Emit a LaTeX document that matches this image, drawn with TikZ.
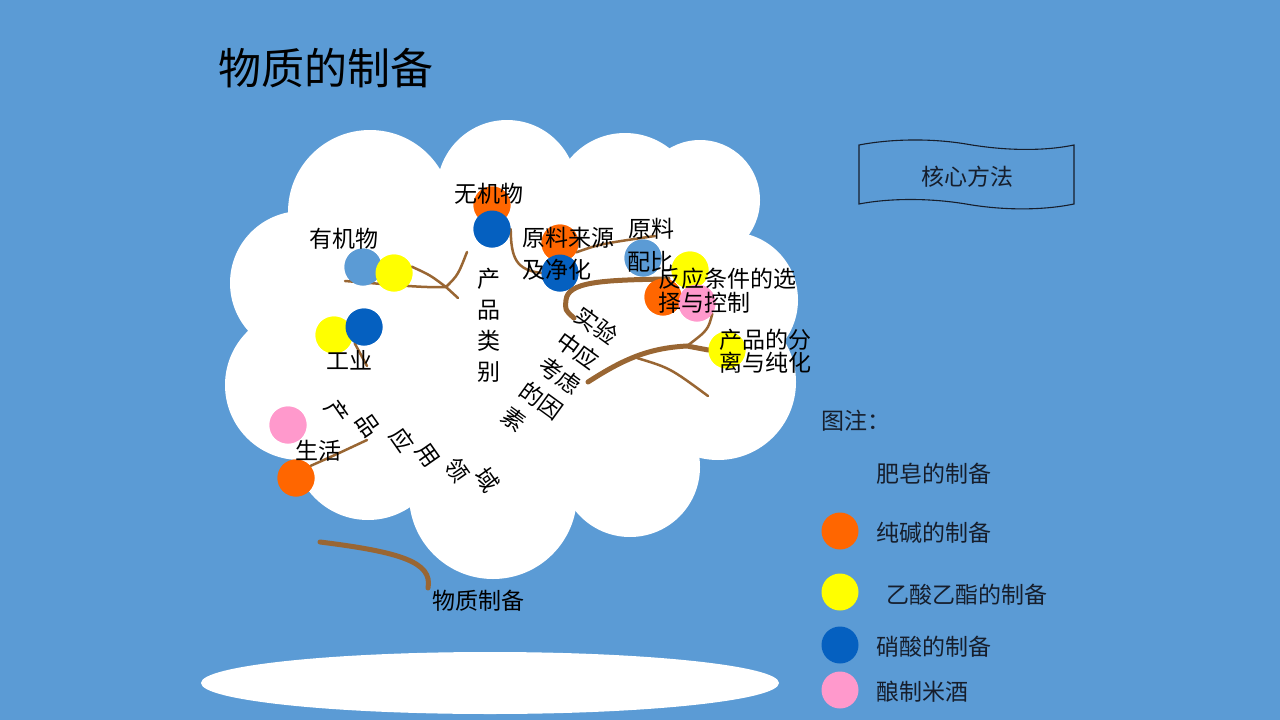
\documentclass[tikz,border=0pt]{standalone}
\usepackage{fontspec}
\setmainfont{Noto Sans CJK SC}
\definecolor{bgc}{RGB}{91,155,213}
\definecolor{orc}{RGB}{255,102,0}
\definecolor{yec}{RGB}{255,255,0}
\definecolor{dbc}{RGB}{5,96,192}
\definecolor{lbc}{RGB}{91,155,213}
\definecolor{pkc}{RGB}{255,153,204}
\definecolor{brc}{RGB}{153,102,51}
\definecolor{legtxt}{RGB}{22,30,44}
\begin{document}
\begin{tikzpicture}[x=1pt,y=-1pt,
  dot/.style={circle, minimum size=37pt, inner sep=0pt},
  br/.style={draw=brc, line width=2.5pt, line cap=round},
  brthick/.style={draw=brc, line width=5pt, line cap=round},
  lbl/.style={inner sep=0pt, text=black, font=\fontsize{23}{31}\selectfont},
  leg/.style={inner sep=0pt, anchor=west, text=legtxt, font=\fontsize{23}{28}\selectfont},
  rch/.style={lbl, rotate=-55}]
\useasboundingbox (0,0) rectangle (1280,720);
\fill[bgc] (0,0) rectangle (1280,720);
% cloud
\fill[white] (510,340) ellipse [x radius=220pt, y radius=160pt];
\foreach \cx/\cy/\r in {370/212/82, 507/190/70, 625/205/72, 700/200/60, 730/300/68, 718/382/78, 630/467/70, 493/495/84, 368/445/75, 300/385/75, 302/283/72}
  \fill[white] (\cx,\cy) circle [radius=\r pt];
% bottom ellipse
\fill[white] (490,683) ellipse [x radius=289pt, y radius=31pt];
% banner
\draw[draw=legtxt, line width=1.1pt] (859,145) .. controls (890,139) and (930,138) .. (966,144) .. controls (1000,150) and (1040,152) .. (1074,145) -- (1074,204) .. controls (1040,211) and (1000,210) .. (966,204) .. controls (930,198) and (890,198) .. (859,204) -- cycle;
\node[inner sep=0pt, text=legtxt, font=\fontsize{23}{28}\selectfont] (hxff) at (967,177) {核心方法};
% title
\node[inner sep=0pt, anchor=west, font=\fontsize{43}{50}\selectfont] (title) at (218,68) {物质的制备};
% circle positions (named)
\path (492,205) node[dot, fill=orc] (wjO) {};
\path (492,229) node[dot, fill=dbc] (wjB) {};
\path (363,267) node[dot, fill=lbc] (yjL) {};
\path (394,273) node[dot, fill=yec] (yjY) {};
\path (334,335) node[dot, fill=yec] (gyY) {};
\path (364,327) node[dot, fill=dbc] (gyB) {};
\path (288,425) node[dot, fill=pkc] (shP) {};
\path (296,478) node[dot, fill=orc] (shO) {};
\path (560,243) node[dot, fill=orc] (ylO) {};
\path (560,273) node[dot, fill=dbc] (ylB) {};
\path (643,258) node[dot, fill=lbc] (plL) {};
\path (690,270) node[dot, fill=yec] (fyY) {};
\path (663,297) node[dot, fill=orc] (fyO) {};
\path (697,303) node[dot, fill=pkc] (fyP) {};
\path (727,350) node[dot, fill=yec] (fxY) {};
% coordinates for free ends
\coordinate (a1) at (345,281);
\coordinate (aJ) at (446,287);
\coordinate (aE) at (458,298);
\coordinate (aT) at (467,252);
\coordinate (gyE) at (367,366);
\coordinate (shE) at (367,440);
\coordinate (plE) at (655,236);
\coordinate (s1a) at (668,279);
\coordinate (s1) at (574,318);
\coordinate (stJ) at (687,346);
\coordinate (s2) at (588,382);
\coordinate (b1) at (637,358);
\coordinate (b2) at (708,396);
\coordinate (m1) at (320,542);
\coordinate (m2) at (428,588);
% branches (drawn beneath circles)
\begin{scope}[on background layer/.style={}]
\end{scope}
\draw[br] (a1) .. controls (395,285) and (425,288) .. (aJ) -- (aE);
\draw[br] (yjY.20) .. controls (430,275) .. (aJ) .. controls (458,275) .. (aT);
\draw[br] (gyB.-120) -- (gyE);
\draw[br] (shO.40) .. controls (335,455) .. (shE);
\draw[br] (wjB.east) .. controls (511,258) and (516,270) .. (ylB.west);
\draw[br] (ylO.-30) .. controls (600,244) .. (plE);
\draw[brthick] (s1a) .. controls (600,280) and (568,282) .. (566,300) .. controls (565,310) .. (s1);
\draw[br] (fyP.-35) .. controls (708,330) .. (stJ);
\draw[brthick] (s2) .. controls (625,358) and (650,348) .. (stJ) -- (fxY.west);
\draw[br] (b1) .. controls (670,368) .. (b2);
\draw[brthick] (m1) .. controls (400,552) and (433,562) .. (m2);
% redraw circles on top of lines
\path (492,205) node[dot, fill=orc] {};
\path (492,229) node[dot, fill=dbc] {};
\path (363,267) node[dot, fill=lbc] {};
\path (394,273) node[dot, fill=yec] {};
\path (334,335) node[dot, fill=yec] {};
\path (364,327) node[dot, fill=dbc] {};
\path (288,425) node[dot, fill=pkc] {};
\path (296,478) node[dot, fill=orc] {};
\path (560,243) node[dot, fill=orc] {};
\path (560,273) node[dot, fill=dbc] {};
\path (643,258) node[dot, fill=lbc] {};
\path (690,270) node[dot, fill=yec] {};
\path (663,297) node[dot, fill=orc] {};
\path (697,303) node[dot, fill=pkc] {};
\path (727,350) node[dot, fill=yec] {};
% labels in cloud
\node[lbl] (twj) at (489,194) {无机物};
\node[lbl] (tyj) at (344,239) {有机物};
\node[lbl] (tgy) at (349,360) {工业};
\node[lbl] (tsh) at (318,451) {生活};
\node[lbl, anchor=west] (tyl1) at (522,238) {原料来源};
\node[lbl, anchor=west] (tyl2) at (522,270) {及净化};
\node[lbl, anchor=west] (tpl1) at (628,229) {原料};
\node[lbl, anchor=west] (tpl2) at (627,262) {配比};
\node[lbl, anchor=west] (tfy1) at (658,279) {反应条件的选};
\node[lbl, anchor=west] (tfy2) at (658,303) {择与控制};
\node[lbl, anchor=west] (tfx1) at (719,340) {产品的分};
\node[lbl, anchor=west] (tfx2) at (719,363) {离与纯化};
\node[lbl, align=center] (tcplb) at (489,325) {产\\品\\类\\别};
\node[lbl, rotate=-36, anchor=north west, align=left] (tsy) at (584,303) {实验\\中应\\考虑\\的因\\素};
\node[rch] (c1) at (337,412) {产};
\node[rch] (c2) at (368,425) {品};
\node[rch] (c3) at (402,440) {应};
\node[rch] (c4) at (428,455) {用};
\node[rch] (c5) at (457,470) {领};
\node[rch] (c6) at (487,480) {域};
\node[lbl] (twzzb) at (478,601) {物质制备};
% legend
\node[leg] (lg0) at (821,421) {图注：};
\node[leg] (lg1) at (876,474) {肥皂的制备};
\path (840,531) node[dot, fill=orc] (lgO) {};
\node[leg] (lg2) at (876,533) {纯碱的制备};
\path (840,592) node[dot, fill=yec] (lgY) {};
\node[leg] (lg3) at (886,595) {乙酸乙酯的制备};
\path (840,645) node[dot, fill=dbc] (lgB) {};
\node[leg] (lg4) at (876,647) {硝酸的制备};
\path (840,690) node[dot, fill=pkc] (lgP) {};
\node[leg] (lg5) at (876,692) {酿制米酒};
\end{tikzpicture}
\end{document}
